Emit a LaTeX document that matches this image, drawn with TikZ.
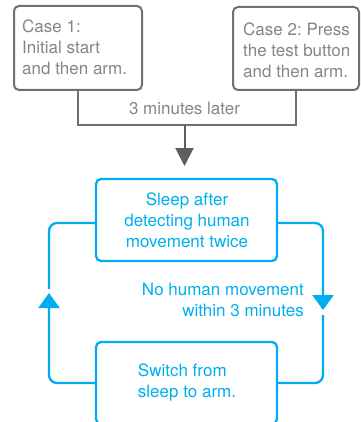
\documentclass[tikz,border=0pt]{standalone}
\usepackage{fontspec}
\setmainfont{TeX Gyre Heros}
\frenchspacing
\usetikzlibrary{arrows.meta}
\definecolor{cblue}{HTML}{00AEEF}
\definecolor{cgray}{HTML}{707070}
\definecolor{carrow}{HTML}{5E5E5E}
\definecolor{ctext}{HTML}{858585}
\begin{document}
\begin{tikzpicture}[x=1pt,y=-1pt,
  every node/.style={font=\fontsize{17}{21}\selectfont},
  graybox/.style={draw=cgray, line width=2pt, rounded corners=5pt, inner sep=0pt},
  graytext/.style={text=ctext, align=left, inner sep=0pt},
  grayline/.style={draw=cgray, line width=2pt},
  bluebox/.style={draw=cblue, line width=2.3pt, rounded corners=5pt, inner sep=0pt, minimum width=181pt, minimum height=82pt},
  bluetext/.style={text=cblue, inner sep=0pt},
  blueline/.style={draw=cblue, line width=2.3pt, rounded corners=8pt},
  bluetip/.style={-{Triangle[width=21pt,length=15pt]}},
  graytip/.style={-{Triangle[width=18pt,length=18pt]}}
]
\useasboundingbox (0,0) rectangle (360,422);
% top boxes
\node[graybox, minimum width=128pt, minimum height=84pt] (c1) at (78,48) {};
\node[graytext, anchor=west] (t1) at (22,47) {Case 1:\\Initial start\\and then arm.};
\node[graybox, minimum width=126pt, minimum height=83pt] (c2) at (296,48.5) {};
\node[graytext, anchor=west] (t2) at (243,50) {Case 2: Press\\the test button\\and then arm.};
% junction
\coordinate (jm) at (184.5,125);
\coordinate (ga) at (184.5,166);
\draw[grayline] (c1.south) |- (jm) -| (c2.south);
\draw[grayline, graytip, draw=carrow] (jm) -- (ga);
\node[graytext] (l1) at (184.5,108) {3 minutes later};
% blue boxes
\node[bluebox] (c3) at (186.5,220) {};
\node[bluetext, align=center] (t3) at (187,220.5) {Sleep after\\detecting human\\movement twice};
\node[bluebox] (c4) at (186.5,383) {};
\node[bluetext, align=left] (t4) at (187,382.5) {Switch from\\sleep to arm.};
% loop
\coordinate (tl) at (49,293);
\coordinate (gl) at (49,289);
\coordinate (tr) at (323,310);
\coordinate (gr) at (323,315);
\draw[blueline, bluetip] (c4.west) -| (tl);
\draw[blueline] (gl) |- ([yshift=-3pt]c3.west);
\draw[blueline, bluetip] ([yshift=-3pt]c3.east) -| (tr);
\draw[blueline] (gr) |- (c4.east);
\node[bluetext, align=right, anchor=east] (l2) at (304,299.5) {No human movement\\within 3 minutes};
\end{tikzpicture}
\end{document}
